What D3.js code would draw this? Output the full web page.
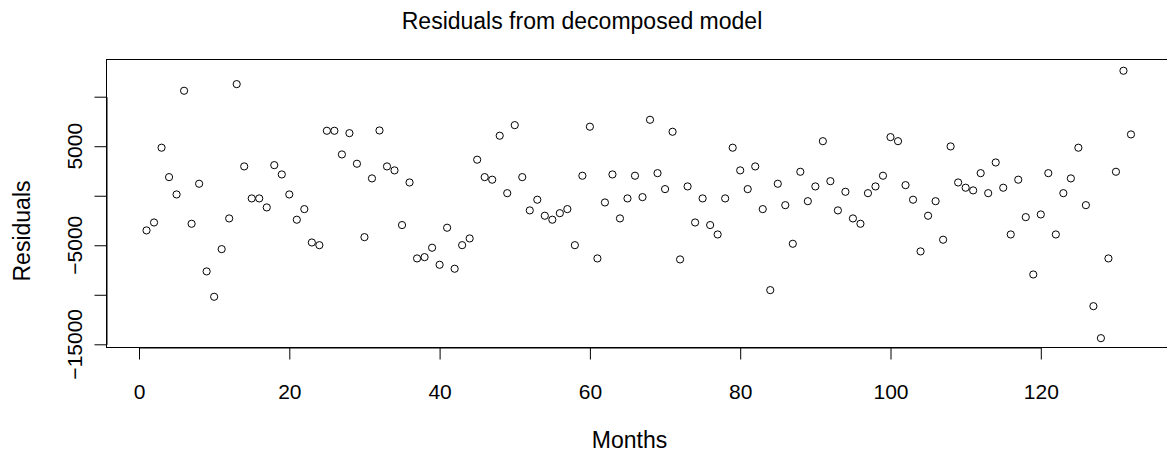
<!DOCTYPE html>
<html>
<head>
<meta charset="utf-8">
<script src="https://cdn.jsdelivr.net/npm/d3@7"></script>
<style>
  html, body { margin: 0; padding: 0; background: #ffffff; }
  svg { display: block; font-family: "Liberation Sans", Arial, Helvetica, sans-serif; }
</style>
</head>
<body>
<svg id="chart" width="1167" height="459"></svg>
<script>
// ---- data ----
const residuals = [
  -3500, -2700, 4850, 1880, 130, 10600, -2830, 1210, -7640, -10200,
  -5390, -2290, 11270, 2960, -270, -270, -1180, 3090, 2150, 130,
  -2420, -1350, -4720, -4990, 6560, 6560, 4170, 6320, 3230, -4180,
  1750, 6590, 2960, 2560, -2960, 1340, -6330, -6200, -5250, -6970,
  -3230, -7370, -4990, -4310, 3640, 1880, 1620, 6060, 260, 7130,
  1880, -1480, -400, -2020, -2420, -1760, -1350, -4990, 2020, 6970,
  -6330, -680, 2150, -2290, -270, 2020, -140, 7670, 2280, 670,
  6460, -6430, 940, -2700, -270, -2960, -3910, -270, 4850, 2560,
  670, 2960, -1350, -9530, 1210, -950, -4850, 2420, -550, 940,
  5510, 1470, -1480, 400, -2290, -2830, 260, 940, 2020, 5920,
  5510, 1070, -400, -5620, -2020, -550, -4440, 4980, 1340, 810,
  540, 2280, 260, 3360, 810, -3910, 1620, -2160, -7950, -1890,
  2280, -3910, 260, 1750, 4850, -950, -11150, -14380, -6330, 2420,
  12620, 6190
];
const months = residuals.map((d, i) => i + 1);
const xTicks = [0, 20, 40, 60, 80, 100, 120];
const yTicks = [-15000, -10000, -5000, 0, 5000, 10000];
const yTickLabels = [-15000, -5000, 5000];
const titleText = "Residuals from decomposed model";
const xLabel = "Months";
const yLabel = "Residuals";

// ---- layout ----
const svg = d3.select("#chart");
const box = { left: 106.5, right: 1170, top: 59.5, bottom: 347.5 };

const x = d3.scaleLinear().domain([0, 120]).range([139, 1040.8]);
const y = d3.scaleLinear().domain([-15000, 10000]).range([344.3, 96.7]);

svg.append("rect").attr("x", 0).attr("y", 0).attr("width", 1167).attr("height", 459).attr("fill", "#fff");

// plot box
svg.append("rect")
  .attr("x", box.left).attr("y", box.top)
  .attr("width", box.right - box.left).attr("height", box.bottom - box.top)
  .attr("fill", "none").attr("stroke", "#000").attr("stroke-width", 1);

// x axis
const xAxis = svg.append("g")
  .attr("transform", `translate(0,${box.bottom})`)
  .call(d3.axisBottom(x).tickValues(xTicks).tickSize(12).tickSizeOuter(0).tickFormat(d3.format("d")));
xAxis.select(".domain").attr("stroke", "#000");
xAxis.selectAll(".tick line").attr("stroke", "#000");
xAxis.selectAll(".tick text")
  .attr("y", 399 - box.bottom).attr("dy", 0)
  .attr("font-size", "21px").attr("fill", "#000")
  .attr("font-family", "'Liberation Sans', Arial, sans-serif");

// y axis
const yAxis = svg.append("g")
  .attr("transform", `translate(${box.left},0)`)
  .call(d3.axisLeft(y).tickValues(yTicks).tickSize(12).tickSizeOuter(0).tickFormat(() => ""));
yAxis.select(".domain").attr("stroke", "#000");
yAxis.selectAll(".tick line").attr("stroke", "#000");

svg.append("g").selectAll("text")
  .data(yTickLabels)
  .join("text")
  .attr("transform", d => `translate(82,${y(d)}) rotate(-90)`)
  .attr("text-anchor", "middle")
  .attr("font-size", "21px")
  .attr("fill", "#000")
  .text(d => d3.format("d")(d));

// points
svg.append("g").selectAll("circle")
  .data(residuals)
  .join("circle")
  .attr("cx", (d, i) => x(months[i]))
  .attr("cy", d => y(d))
  .attr("r", 3.6)
  .attr("fill", "none")
  .attr("stroke", "#000")
  .attr("stroke-width", 1);

// titles
svg.append("text")
  .attr("x", 582).attr("y", 29)
  .attr("text-anchor", "middle")
  .attr("font-size", "23px").attr("fill", "#000")
  .text(titleText);

svg.append("text")
  .attr("x", 629.5).attr("y", 448)
  .attr("text-anchor", "middle")
  .attr("font-size", "23px").attr("fill", "#000")
  .text(xLabel);

svg.append("text")
  .attr("transform", "translate(30,231) rotate(-90)")
  .attr("text-anchor", "middle")
  .attr("font-size", "23px").attr("fill", "#000")
  .text(yLabel);
</script>
</body>
</html>
